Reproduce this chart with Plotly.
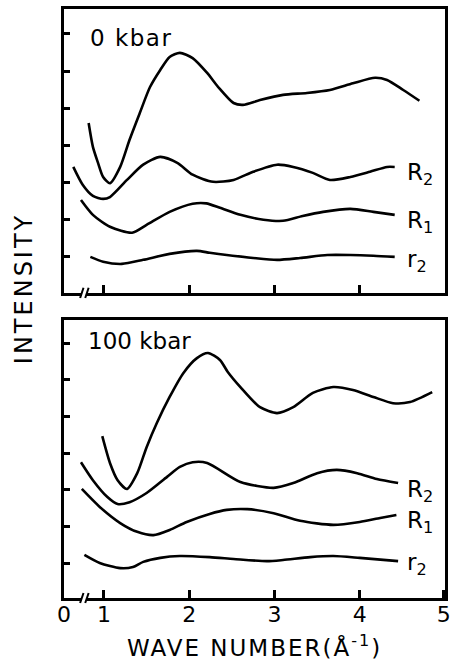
import plotly.graph_objects as go

# ---- 0 kbar panel ----
top_S_x = [0.82, 0.87, 0.93, 0.99, 1.07, 1.19, 1.30, 1.42, 1.54, 1.66, 1.77, 1.89, 2.04, 2.21, 2.34, 2.52, 2.63, 2.83, 3.10, 3.38, 3.65, 3.92, 4.18, 4.32, 4.51, 4.70]
top_S_y = [4.60, 3.96, 3.53, 3.15, 2.98, 3.42, 4.15, 4.87, 5.57, 6.03, 6.38, 6.49, 6.35, 5.95, 5.57, 5.14, 5.09, 5.22, 5.36, 5.41, 5.49, 5.67, 5.82, 5.76, 5.49, 5.20]
top_R2_x = [0.64, 0.75, 0.87, 0.99, 1.07, 1.27, 1.46, 1.66, 1.86, 2.04, 2.28, 2.52, 2.75, 3.03, 3.22, 3.45, 3.65, 3.89, 4.12, 4.32, 4.41]
top_R2_y = [3.42, 2.94, 2.64, 2.56, 2.61, 3.07, 3.48, 3.69, 3.53, 3.21, 3.02, 3.07, 3.29, 3.48, 3.42, 3.26, 3.07, 3.15, 3.29, 3.42, 3.42]
top_R1_x = [0.73, 0.87, 1.07, 1.33, 1.50, 1.77, 2.04, 2.20, 2.36, 2.60, 2.87, 3.10, 3.33, 3.57, 3.89, 4.16, 4.41]
top_R1_y = [2.53, 2.13, 1.81, 1.65, 1.86, 2.21, 2.43, 2.44, 2.32, 2.13, 2.00, 1.97, 2.10, 2.21, 2.29, 2.21, 2.13]
top_r2_x = [0.84, 0.99, 1.21, 1.46, 1.77, 2.09, 2.24, 2.44, 2.75, 3.03, 3.30, 3.62, 3.89, 4.16, 4.41]
top_r2_y = [1.00, 0.87, 0.81, 0.92, 1.08, 1.16, 1.11, 1.05, 0.97, 0.92, 0.97, 1.05, 1.05, 1.03, 1.00]

# ---- 100 kbar panel ----
bot_S_x = [0.98, 1.07, 1.16, 1.27, 1.39, 1.50, 1.62, 1.77, 1.93, 2.09, 2.22, 2.36, 2.45, 2.60, 2.83, 3.03, 3.22, 3.45, 3.69, 3.92, 4.16, 4.39, 4.59, 4.85]
bot_S_y = [4.46, 3.73, 3.26, 3.02, 3.45, 4.16, 4.82, 5.53, 6.18, 6.59, 6.73, 6.54, 6.22, 5.80, 5.25, 5.09, 5.25, 5.64, 5.80, 5.72, 5.53, 5.36, 5.39, 5.66]
bot_R2_x = [0.73, 0.87, 1.04, 1.16, 1.30, 1.50, 1.74, 1.89, 2.04, 2.21, 2.60, 2.99, 3.22, 3.50, 3.73, 3.97, 4.20, 4.45]
bot_R2_y = [3.75, 3.26, 2.80, 2.61, 2.66, 2.91, 3.35, 3.62, 3.75, 3.73, 3.21, 3.05, 3.18, 3.45, 3.54, 3.45, 3.29, 3.18]
bot_R1_x = [0.74, 0.95, 1.19, 1.39, 1.58, 1.77, 1.97, 2.24, 2.44, 2.68, 2.99, 3.30, 3.69, 4.00, 4.24, 4.43]
bot_R1_y = [3.02, 2.53, 2.09, 1.85, 1.76, 1.90, 2.12, 2.34, 2.45, 2.47, 2.36, 2.15, 2.04, 2.12, 2.23, 2.31]
bot_r2_x = [0.77, 0.95, 1.19, 1.34, 1.46, 1.66, 1.89, 2.24, 2.52, 2.91, 3.10, 3.42, 3.69, 4.00, 4.45]
bot_r2_y = [1.22, 1.00, 0.86, 0.89, 1.03, 1.14, 1.19, 1.16, 1.11, 1.05, 1.08, 1.16, 1.19, 1.14, 1.05]

x_tickvals = [0.531, 1, 2, 3, 4, 4.985]
x_ticktext = ["0", "1", "2", "3", "4", "5"]
y_tickvals = [1, 2, 3, 4, 5, 6, 7]

panel_titles = ["0 kbar", "100 kbar"]
curve_labels = ["R<sub style='font-size:21px'>2</sub>",
                "R<sub style='font-size:21px'>1</sub>",
                "r<sub style='font-size:21px'>2</sub>"]
top_label_y = [3.34, 2.05, 1.0]
bot_label_y = [3.07, 2.23, 1.08]

FONT = "DejaVu Sans"

fig = go.Figure()
line = dict(color="black", width=2.6, shape="spline", smoothing=0.7)
for xs, ys in [(top_S_x, top_S_y), (top_R2_x, top_R2_y), (top_R1_x, top_R1_y), (top_r2_x, top_r2_y)]:
    fig.add_trace(go.Scatter(x=xs, y=ys, mode="lines", line=line, xaxis="x", yaxis="y", showlegend=False, hoverinfo="skip"))
for xs, ys in [(bot_S_x, bot_S_y), (bot_R2_x, bot_R2_y), (bot_R1_x, bot_R1_y), (bot_r2_x, bot_r2_y)]:
    fig.add_trace(go.Scatter(x=xs, y=ys, mode="lines", line=line, xaxis="x2", yaxis="y2", showlegend=False, hoverinfo="skip"))

xcommon = dict(range=[0.531, 5.0], showgrid=False, zeroline=False, showline=True, linecolor="black",
               linewidth=2.5, mirror=True, ticks="inside", ticklen=8, tickwidth=2.5, tickcolor="black")
ycommon = dict(showgrid=False, zeroline=False, showline=True, linecolor="black", linewidth=2.5, mirror=True,
               ticks="inside", ticklen=6, tickwidth=2.5, tickcolor="black", tickvals=y_tickvals, showticklabels=False)

fig.update_layout(
    width=450, height=660,
    margin=dict(l=64, r=5, t=9, b=62, autoexpand=False),
    paper_bgcolor="white", plot_bgcolor="white",
    font=dict(family=FONT, color="black", size=20),
    xaxis=dict(xcommon, domain=[0, 1], anchor="y", tickvals=[1, 2, 3, 4], showticklabels=False),
    yaxis=dict(ycommon, domain=[0.518, 1], anchor="x", range=[0.03, 7.67]),
    xaxis2=dict(xcommon, domain=[0, 1], anchor="y2", tickvals=x_tickvals, ticktext=x_ticktext,
                tickfont=dict(size=22, family=FONT), ticklabelstandoff=-5, ticklabeloverflow="allow"),
    yaxis2=dict(ycommon, domain=[0, 0.472], anchor="x2", range=[0.045, 7.63]),
)

# axis break marks
for xa, ya in [("x", "y"), ("x2", "y2")]:
    fig.add_shape(type="rect", xref=xa, yref=ya + " domain", x0=0.74, x1=0.80, y0=-0.012, y1=0.012,
                  fillcolor="white", line=dict(width=0), layer="above")
    for bx in [0.74, 0.80]:
        fig.add_shape(type="line", xref=xa, yref=ya + " domain", x0=bx - 0.02, x1=bx + 0.02, y0=-0.018, y1=0.018,
                      line=dict(color="black", width=2), layer="above")

# panel titles
fig.add_annotation(text="<span style='letter-spacing:1.5px'>" + panel_titles[0] + "</span>", xref="paper", yref="paper",
                   x=0.063, y=0.951, xanchor="left", yanchor="middle", showarrow=False, font=dict(size=23))
fig.add_annotation(text=panel_titles[1], xref="paper", yref="paper",
                   x=0.058, y=0.437, xanchor="left", yanchor="middle", showarrow=False, font=dict(size=23))

# curve labels
for lab, yv in zip(curve_labels, top_label_y):
    fig.add_annotation(text=lab, xref="x", yref="y", x=4.53, y=yv, xanchor="left", yanchor="top",
                       yshift=13, showarrow=False, font=dict(size=23))
for lab, yv in zip(curve_labels, bot_label_y):
    fig.add_annotation(text=lab, xref="x2", yref="y2", x=4.53, y=yv, xanchor="left", yanchor="top",
                       yshift=13, showarrow=False, font=dict(size=23))

# axis titles
fig.add_annotation(text="<span style='letter-spacing:3px'>INTENSITY</span>", xref="paper", yref="paper",
                   x=-0.105, y=0.526, textangle=-90,
                   xanchor="center", yanchor="middle", showarrow=False, font=dict(size=24))
fig.add_annotation(text="<span style='letter-spacing:2px'>WAVE NUMBER(Å<sup>-1</sup>)</span>", xref="paper", yref="paper",
                   x=0.499, y=-0.082,
                   xanchor="center", yanchor="middle", showarrow=False, font=dict(size=23))

fig.write_html("out.html", config={"displayModeBar": False},
               post_script="document.body.style.margin='0px';")
